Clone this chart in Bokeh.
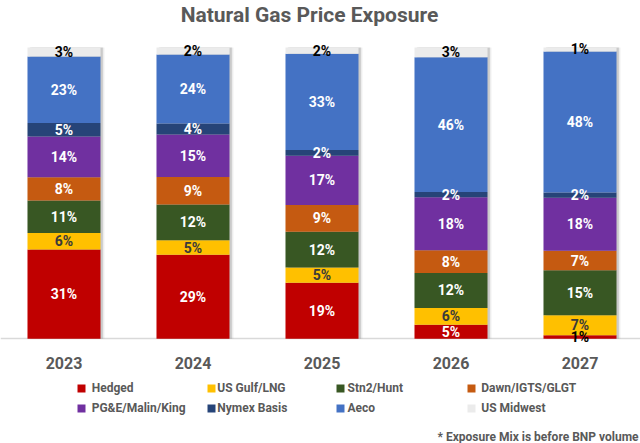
from bokeh.plotting import figure
from bokeh.models import Range1d, ColumnDataSource, Label, Legend, LegendItem, FixedTicker
from bokeh.core.properties import value
from bokeh.transform import dodge
from bokeh.embed import file_html
from bokeh.resources import INLINE

# ---------------- data ----------------
years = ["2023", "2024", "2025", "2026", "2027"]
series_names = ["Hedged", "US Gulf/LNG", "Stn2/Hunt", "Dawn/IGTS/GLGT",
                "PG&E/Malin/King", "Nymex Basis", "Aeco", "US Midwest"]
hedged = [30.6, 28.8, 19.2, 4.8, 1.2]
us_gulf = [5.7, 5.0, 5.3, 5.8, 6.9]
stn2 = [11.2, 12.3, 12.2, 12.0, 15.4]
dawn = [7.9, 9.4, 9.2, 7.8, 6.7]
pge = [14.0, 14.6, 16.9, 18.2, 18.2]
nymex = [4.7, 3.8, 2.0, 1.8, 1.8]
aeco = [22.8, 23.7, 33.0, 46.2, 48.4]
midwest = [3.1, 2.4, 2.2, 3.4, 1.4]
series_values = [hedged, us_gulf, stn2, dawn, pge, nymex, aeco, midwest]

colors = ["#c00000", "#ffc000", "#385723", "#c55a11",
          "#7030a0", "#264478", "#4472c4", "#ebebeb"]
label_colors = ["#ffffff", "#3a3a3a", "#ffffff", "#ffffff",
                "#ffffff", "#ffffff", "#ffffff", "#000000"]

FONT = "Roboto"
GREY = "#595959"

# ---------------- figure ----------------
xs = list(range(len(years)))
keys = ["s%d" % i for i in range(len(series_names))]
data = {"x": xs}
for k, vals in zip(keys, series_values):
    data[k] = vals
data["total"] = [sum(v[i] for v in series_values) for i in xs]
source = ColumnDataSource(data)

p = figure(width=640, height=443,
           x_range=Range1d(-0.4922, 4.469), y_range=Range1d(-35.94, 116.1),
           y_axis_location=None,
           min_border_left=0, min_border_right=0,
           min_border_top=0, min_border_bottom=0,
           toolbar_location=None, output_backend="svg")
p.outline_line_color = None
p.xgrid.visible = False
p.ygrid.visible = False
p.background_fill_color = "white"
p.border_fill_color = "white"

BAR_W = 0.566

# drop shadow
p.vbar(x=dodge("x", 0.03), top="total", bottom=0, width=BAR_W, source=source,
       fill_color="#9a9a9a", fill_alpha=0.18, line_color=None)
p.vbar(x=dodge("x", 0.018), top="total", bottom=0, width=BAR_W, source=source,
       fill_color="#8a8a8a", fill_alpha=0.35, line_color=None)

renderers = p.vbar_stack(keys, x="x", width=BAR_W, color=colors, source=source,
                         line_width=0)

# segment labels
lx, ly, lt, lc = [], [], [], []
for i in xs:
    bottom = 0.0
    for k, vals in enumerate(series_values):
        v = vals[i]
        lx.append(i)
        ly.append(bottom + v / 2.0)
        lt.append("%d%%" % round(v))
        lc.append("#000000" if v < 1.5 else label_colors[k])
        bottom += v
lsrc = ColumnDataSource(dict(x=lx, y=ly, text=lt, color=lc))
p.text(x="x", y="y", text="text", text_color="color", source=lsrc,
       text_align="center", text_baseline="middle",
       text_font=value(FONT), text_font_style="bold", text_font_size="14px")

# x axis drawn at y = 0, beneath the bars and labels
xa = p.xaxis[0]
xa.fixed_location = 0
xa.level = "underlay"
xa.ticker = FixedTicker(ticks=xs)
xa.major_label_overrides = {i: y for i, y in zip(xs, years)}
xa.major_tick_line_color = None
xa.minor_tick_line_color = None
xa.axis_line_color = "#d9d9d9"
xa.axis_line_width = 1.5
xa.major_label_standoff = 12
xa.major_label_text_font = FONT
xa.major_label_text_font_style = "bold"
xa.major_label_text_font_size = "16px"
xa.major_label_text_color = GREY

# title
p.add_layout(Label(x=309, y=428.5, x_units="screen", y_units="screen",
                   text="Natural Gas Price Exposure", text_align="center",
                   text_baseline="middle", text_font=FONT, text_font_style="bold",
                   text_font_size="21px", text_color=GREY))

# footnote
p.add_layout(Label(x=638, y=7, x_units="screen", y_units="screen",
                   text="* Exposure Mix is before BNP volume", text_align="right",
                   text_baseline="middle", text_font=FONT, text_font_style="bold",
                   text_font_size="12px", text_color=GREY))

# legend: four columns of two rows
col_x = [75.7, 206.3, 334.5, 466.3]
standoffs = [6, 1, 3, 5]
for c in range(4):
    items = [LegendItem(label=series_names[c], renderers=[renderers[c]]),
             LegendItem(label=series_names[c + 4], renderers=[renderers[c + 4]])]
    leg = Legend(items=items, location=(col_x[c], 25.5), orientation="vertical",
                 padding=0, margin=0, spacing=0, glyph_width=10, glyph_height=10,
                 label_height=20, label_standoff=standoffs[c],
                 label_text_font=FONT, label_text_font_style="bold",
                 label_text_font_size="12px", label_text_color=GREY,
                 border_line_color=None, background_fill_alpha=0)
    p.add_layout(leg)

open("out.html", "w").write(file_html(p, INLINE))
